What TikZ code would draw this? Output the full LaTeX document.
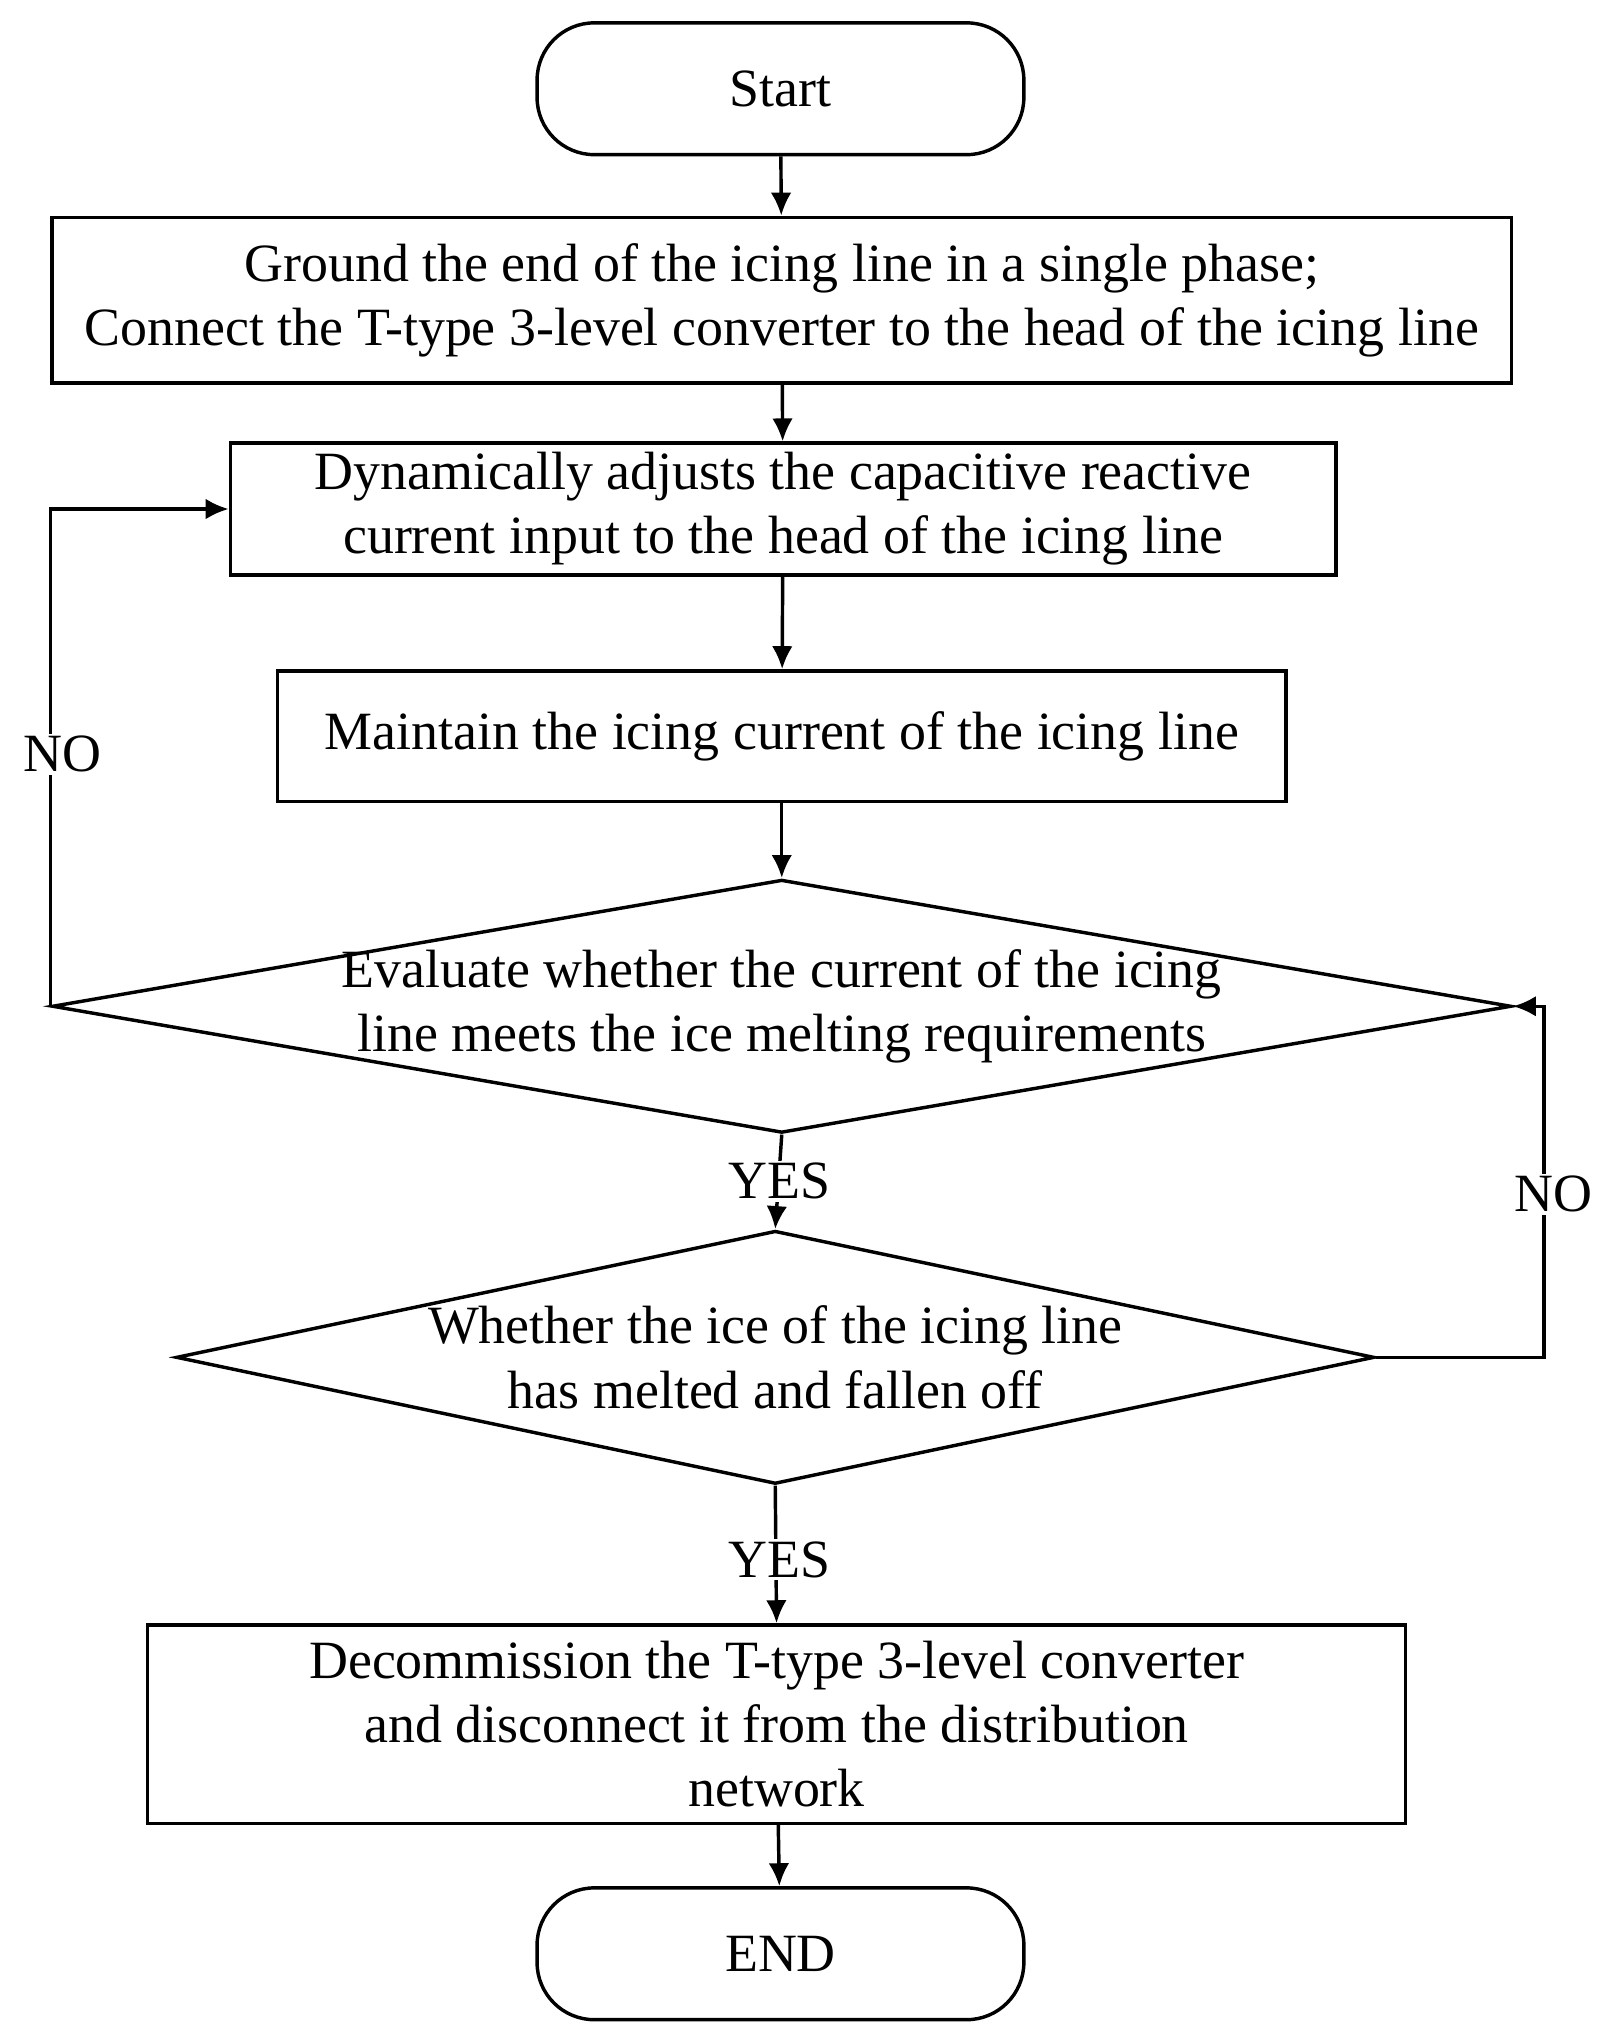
\documentclass[tikz,border=0pt]{standalone}
\usepackage{fontspec}
\setmainfont{Liberation Serif}
\usepackage{tikz}
\usetikzlibrary{shapes.geometric}
\usetikzlibrary{arrows.meta}

\tikzset{
  box/.style={draw, line width=1.5pt, align=center, inner sep=0pt},
  term/.style={draw, line width=1.5pt, rounded corners=25pt, inner sep=0pt,
               minimum width=373*0.02cm, minimum height=101*0.02cm},
  dia/.style={draw, diamond, line width=1.5pt, inner sep=0pt},
  flow/.style={line width=1.5pt, -{Latex[length=10pt,width=9pt]}},
  lbl/.style={align=center, inner sep=0pt},
  tag/.style={fill=white, inner sep=1pt}
}

\begin{document}
\begin{tikzpicture}[x=0.02cm, y=-0.02cm, font=\fontsize{23.5}{28}\selectfont]
 \useasboundingbox (0,0) rectangle (1240,1560);
 % terminals and boxes
 \node[term] (start) at (598,68) {Start};
 \node[box, minimum width=1118*0.02cm, minimum height=127*0.02cm] (ground) at (599,230)
   {Ground the end of the icing line in a single phase;\\
    Connect the T-type 3-level converter to the head of the icing line};
 \node[box, minimum width=847*0.02cm, minimum height=101*0.02cm] (adjust) at (600,390)
   {Dynamically adjusts the capacitive reactive\\current input to the head of the icing line};
 \node[box, minimum width=773*0.02cm, minimum height=100*0.02cm] (keep) at (599,564)
   {Maintain the icing current of the icing line};
 % decisions
 \node[dia, minimum width=1118*0.02cm, minimum height=194*0.02cm] (eval) at (599,771) {};
 \node[lbl] at (eval) {Evaluate whether the current of the icing\\line meets the ice melting requirements};
 \node[dia, minimum width=918*0.02cm, minimum height=194*0.02cm] (melt) at (594,1040) {};
 \node[lbl] at (melt) {Whether the ice of the icing line\\has melted and fallen off};
 \node[draw, line width=1.5pt, minimum width=964*0.02cm, minimum height=152*0.02cm] (stop) at (595,1321) {};
 \node[lbl] at (stop) {Decommission the T-type 3-level converter\\and disconnect it from the distribution\\network};
 \node[term] (end) at (598,1497) {END};
 % connectors
 \draw[flow] (start) -- (ground);
 \draw[flow] (ground) -- (adjust);
 \draw[flow] (adjust) -- (keep);
 \draw[flow] (keep) -- (eval);
 \draw[flow] (eval.south) -- (melt.north);
 \draw[flow] (melt.south) -- (stop.north);
 \draw[flow] (stop) -- (end);
 \coordinate (lcorner) at (40,390);
 \coordinate (rcorner) at (1183,1040);
 \draw[flow] (eval.west) -- (eval.west |- lcorner) -- (adjust.west);
 \draw[flow] (melt.east) -- (rcorner) -- (rcorner |- eval.east) -- (eval.east);
 % labels
 \node[tag] at (597,905) {YES};
 \node[tag] at (597,1195) {YES};
 \node[tag] at (48,578) {NO};
 \node[tag] at (1190,915) {NO};
\end{tikzpicture}
\end{document}
